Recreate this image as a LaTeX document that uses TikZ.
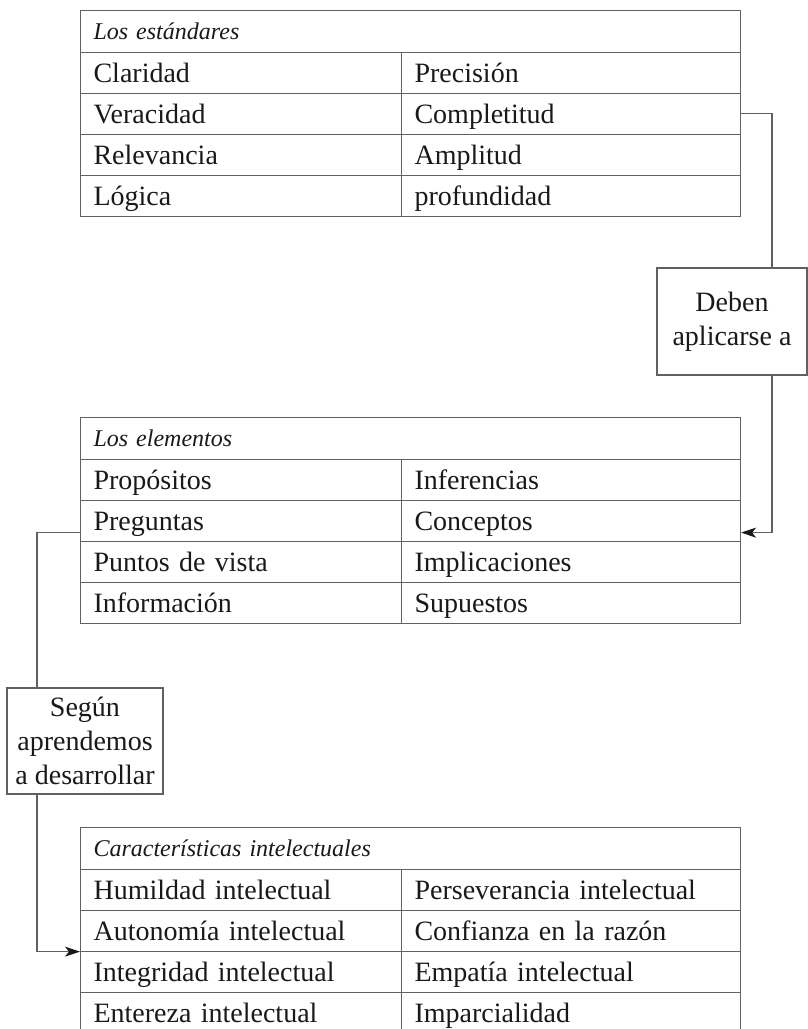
\documentclass[tikz,border=0pt]{standalone}
\usepackage{fontspec}
\setmainfont{Liberation Serif}
\usetikzlibrary{arrows.meta,positioning}
\definecolor{trazo}{rgb}{0.38 0.38 0.38}
\definecolor{tinta}{rgb}{0.1 0.1 0.1}

\begin{document}
\begin{tikzpicture}[x=1pt, y=-1pt,
    celda/.style={draw=trazo, line width=1.1pt, rectangle, anchor=north west, minimum height=41pt,
      inner xsep=13pt, inner ysep=0pt, text=tinta, font=\fontsize{28}{34}\selectfont,
      text height=19pt, text depth=0pt, align=left},
    izq/.style={celda, minimum width=321pt, text width=295pt},
    der/.style={celda, minimum width=339pt, text width=313pt},
    cabecera/.style={celda, minimum width=660pt, text width=634pt, minimum height=41.5pt,
      font=\fontsize{24}{29}\selectfont\itshape, text height=16pt},
    caja/.style={draw=trazo, line width=1.1pt, rectangle, align=center, text=tinta,
      font=\fontsize{28}{34}\selectfont, inner sep=0pt},
    enlace/.style={draw=trazo, line width=1.1pt},
    flecha/.style={enlace, -{Stealth[length=15pt, width=10pt, inset=4pt, color=tinta]}}]
  \useasboundingbox (0,0) rectangle (808,1029);
  \clip (0,0) rectangle (808,1029);

  % los estandares
  \node[cabecera] (est) at (80,10) {Los estándares};
  \foreach \a/\b [count=\i] in {Claridad/Precisión, Veracidad/Completitud, Relevancia/Amplitud, Lógica/profundidad}{
    \node[izq] (est-\i-a) at (80,{51.5+41*(\i-1)}) {\a};
    \node[der] (est-\i-b) at (401,{51.5+41*(\i-1)}) {\b};
  }

  % los elementos
  \node[cabecera] (ele) at (80,417) {Los elementos};
  \foreach \a/\b [count=\i] in {Propósitos/Inferencias, Preguntas/Conceptos, Puntos de vista/Implicaciones, Información/Supuestos}{
    \node[izq] (ele-\i-a) at (80,{458.5+41*(\i-1)}) {\a};
    \node[der] (ele-\i-b) at (401,{458.5+41*(\i-1)}) {\b};
  }

  % caracteristicas
  \node[cabecera] (car) at (80,827) {Características intelectuales};
  \foreach \a/\b [count=\i] in {Humildad intelectual/Perseverancia intelectual, Autonomía intelectual/Confianza en la razón, Integridad intelectual/Empatía intelectual, Entereza intelectual/Imparcialidad}{
    \node[izq] (car-\i-a) at (80,{868.5+41*(\i-1)}) {\a};
    \node[der] (car-\i-b) at (401,{868.5+41*(\i-1)}) {\b};
  }

  \node[caja, minimum width=150pt, minimum height=107pt] (deben) at (732,321.5) {Deben\\aplicarse a};
  \node[caja, minimum width=156pt, minimum height=106pt] (segun) at (85,741) {Según\\aprendemos\\a desarrollar};

  \draw[enlace] (est-2-b.east) -| ([xshift=40pt]deben.north);
  \draw[flecha] ([xshift=40pt]deben.south) |- ([yshift=9pt]ele-2-b.south east);
  \draw[enlace] ([yshift=9pt]ele-2-a.south west) -| ([xshift=-48pt]segun.north);
  \draw[flecha] ([xshift=-48pt]segun.south) |- (car-2-a.south west);
\end{tikzpicture}
\end{document}
